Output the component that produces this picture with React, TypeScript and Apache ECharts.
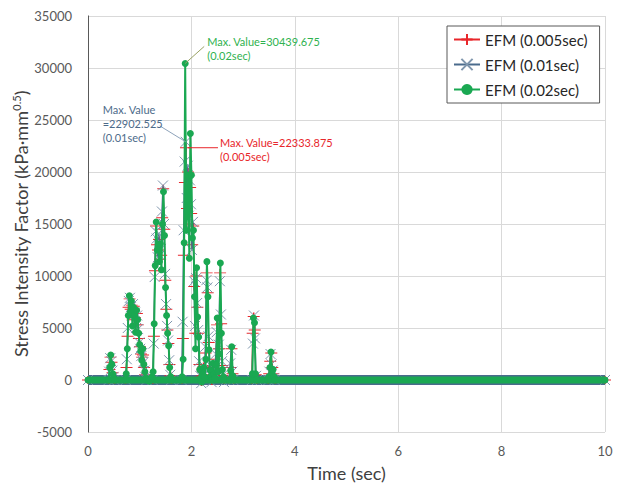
import React, { useEffect, useRef } from "react";
import * as echarts from "echarts";

const FONT = 'Lato, "Open Sans", "DejaVu Sans", sans-serif';

const seriesNames = ["EFM (0.005sec)", "EFM (0.01sec)", "EFM (0.02sec)"];
const seriesColors = ["#e8262b", "#4a6b8c", "#1aa852"];

const xTicks = { min: 0, max: 10, interval: 2 };
const yTicks = { min: -5000, max: 35000, interval: 5000 };

// EFM (0.005sec) : [time, value]
const red005: number[][] = [
  [0, 0], [0.405, 0], [0.415, 1000], [0.435, 2200], [0.455, 1700], [0.475, 700], [0.495, 200], [0.515, 0],
  [0.725, 0], [0.745, 1200], [0.765, 4200], [0.785, 7000], [0.805, 7800], [0.825, 6800], [0.845, 7200],
  [0.865, 5800], [0.885, 7100], [0.905, 6000], [0.925, 5300], [0.945, 6400], [0.965, 5300], [0.985, 4000],
  [1.005, 3200], [1.025, 2500], [1.045, 2200], [1.065, 2400], [1.085, 1200], [1.105, 500], [1.125, 100],
  [1.255, 0], [1.275, 4200], [1.295, 10500], [1.315, 14800], [1.335, 13000], [1.355, 12500], [1.375, 13500],
  [1.395, 11600], [1.415, 12000], [1.435, 15600], [1.455, 18400], [1.475, 14500], [1.495, 9600], [1.515, 6800],
  [1.535, 4800], [1.555, 3500], [1.575, 1500], [1.595, 400], [1.615, 0], [1.815, 0], [1.835, 4000],
  [1.855, 12000], [1.875, 19000], [1.895, 22333.875], [1.915, 16500], [1.935, 20000], [1.955, 15000],
  [1.975, 18500], [1.995, 16000], [2.015, 13000], [2.035, 14800], [2.055, 9000], [2.075, 4500], [2.095, 10000],
  [2.115, 7000], [2.135, 4500], [2.155, 1500], [2.175, 300], [2.195, -200], [2.215, 400], [2.235, 1300],
  [2.255, 500], [2.275, 2600], [2.295, 10300], [2.315, 8400], [2.335, 3600], [2.355, 1200], [2.375, 400],
  [2.395, -100], [2.415, 1400], [2.435, 700], [2.455, 200], [2.475, 2000], [2.495, 5300], [2.515, 1100],
  [2.535, 3000], [2.555, 10300], [2.575, 5400], [2.595, 1400], [2.615, 400], [2.635, 0], [2.735, 0],
  [2.755, 1200], [2.775, 3000], [2.795, 600], [2.815, 0], [3.165, 0], [3.185, 4500], [3.205, 6100],
  [3.225, 4800], [3.245, 500], [3.265, 0], [3.485, 0], [3.505, 600], [3.525, 1800], [3.545, 2600],
  [3.565, 1200], [3.585, 600], [3.605, 100], [3.625, 0], [10, 0],
];

// EFM (0.01sec)
const blue001: number[][] = [
  [0, 0], [0.40, 0], [0.41, 800], [0.43, 2100], [0.45, 1800], [0.47, 900], [0.49, 300], [0.51, 0],
  [0.73, 0], [0.75, 2000], [0.77, 5000], [0.79, 7600], [0.81, 7900], [0.83, 7000], [0.85, 6200], [0.87, 7300],
  [0.89, 5600], [0.91, 6500], [0.93, 5000], [0.95, 6200], [0.97, 4900], [0.99, 3600], [1.01, 3000],
  [1.03, 2300], [1.05, 2600], [1.07, 1700], [1.09, 900], [1.11, 300], [1.13, 0], [1.25, 0], [1.27, 3500],
  [1.29, 9900], [1.31, 14300], [1.33, 13600], [1.35, 11800], [1.37, 14100], [1.39, 12000], [1.41, 12600],
  [1.43, 16200], [1.45, 18700], [1.47, 15000], [1.49, 10200], [1.51, 7300], [1.53, 5200], [1.55, 3800],
  [1.57, 1900], [1.59, 500], [1.61, 0], [1.81, 0], [1.83, 5600], [1.85, 14400], [1.87, 21000],
  [1.89, 22902.525], [1.91, 17500], [1.93, 20600], [1.95, 15800], [1.97, 19200], [1.99, 16900], [2.01, 12500],
  [2.03, 15200], [2.05, 9500], [2.07, 5200], [2.09, 9800], [2.11, 7400], [2.13, 4800], [2.15, 1800],
  [2.17, 400], [2.19, -300], [2.21, 300], [2.23, 1400], [2.25, 600], [2.27, 3200], [2.29, 9600], [2.31, 8900],
  [2.33, 4200], [2.35, 1500], [2.37, 500], [2.39, -200], [2.41, 1200], [2.43, 800], [2.45, 300], [2.47, 2500],
  [2.49, 4600], [2.51, 1400], [2.53, 3400], [2.55, 9500], [2.57, 6300], [2.59, 1800], [2.61, 500],
  [2.63, -200], [2.73, 0], [2.75, 1600], [2.77, 2900], [2.79, 800], [2.81, 0], [3.17, 0], [3.19, 3500],
  [3.21, 6200], [3.23, 4000], [3.25, 400], [3.27, 0], [3.49, 0], [3.51, 800], [3.53, 2500], [3.55, 1500],
  [3.57, 900], [3.59, 200], [3.61, 0], [10, 0],
];

// EFM (0.02sec)
const green002: number[][] = [
  [0, 0], [0.40, 0], [0.42, 1200], [0.44, 2400], [0.46, 1500], [0.48, 600], [0.50, 200], [0.52, 0],
  [0.72, 0], [0.74, 600], [0.76, 3000], [0.78, 6200], [0.80, 8100], [0.82, 6500], [0.84, 7600], [0.86, 5200],
  [0.88, 7000], [0.90, 6300], [0.92, 4600], [0.94, 6700], [0.96, 5800], [0.98, 4500], [1.00, 3400],
  [1.02, 2800], [1.04, 1900], [1.06, 3000], [1.08, 1500], [1.10, 800], [1.12, 200], [1.14, 0], [1.18, -100],
  [1.20, 0], [1.24, 300], [1.26, 800], [1.28, 5400], [1.30, 11000], [1.32, 15200], [1.34, 12500],
  [1.36, 12800], [1.38, 11400], [1.40, 13100], [1.42, 10600], [1.44, 15000], [1.46, 18100], [1.48, 13900],
  [1.50, 8900], [1.52, 6200], [1.54, 4500], [1.56, 3300], [1.58, 1200], [1.60, 300], [1.62, 0], [1.80, 0],
  [1.82, 300], [1.84, 2000], [1.86, 13200], [1.88, 30439.675], [1.90, 14400], [1.92, 16200], [1.94, 19700],
  [1.96, 11700], [1.98, 23700], [2.00, 19700], [2.02, 13650], [2.04, 14400], [2.06, 8000], [2.08, 3000],
  [2.10, 10800], [2.12, 6060], [2.14, 4130], [2.16, 1000], [2.18, 200], [2.20, -200], [2.22, 500],
  [2.24, 1200], [2.26, 300], [2.28, 2000], [2.30, 11380], [2.32, 8000], [2.34, 2900], [2.36, 960],
  [2.38, 400], [2.40, 0], [2.42, 1600], [2.44, 600], [2.46, 200], [2.48, 1440], [2.50, 5960], [2.52, 800],
  [2.54, 2500], [2.56, 11250], [2.58, 4500], [2.60, 1000], [2.62, 300], [2.64, 0], [2.74, 0], [2.76, 900],
  [2.78, 3200], [2.80, 400], [2.82, 0], [3.16, 0], [3.18, 600], [3.20, 5960], [3.22, 5500], [3.24, 600],
  [3.26, 0], [3.48, 0], [3.50, 300], [3.52, 1200], [3.54, 2700], [3.56, 700], [3.58, 1000], [3.60, 300],
  [3.62, 0], [10, 0],
];

// zero level from 0 to 10 sec (drawn as the solid band of overlapping markers)
const baseline: number[][] = [[0, 0], [10, 0]];

// maxima [time, value] and annotation texts
const redMax = [1.895, 22333.875];
const blueMax = [1.89, 22902.525];
const greenMax = [1.88, 30439.675];
const redNote = "Max. Value=22333.875\n(0.005sec)";
const blueNote = "Max. Value\n=22902.525\n(0.01sec)";
const greenNote = "Max. Value=30439.675\n(0.02sec)";

const PLUS = "path://M0,5L10,5M5,0L5,10";
const CROSS = "path://M0,0L10,10M10,0L0,10";

export default function App() {
  const ref = useRef<HTMLDivElement>(null);
  useEffect(() => {
    if (!ref.current) return;
    const chart = echarts.init(ref.current, undefined, { renderer: "svg" });
    const option: any = {
      animation: false,
      backgroundColor: "#ffffff",
      textStyle: { fontFamily: FONT },
      grid: { left: 88, right: 18, top: 16, bottom: 56, containLabel: false, outerBoundsMode: "none" },
      legend: {
        data: seriesNames,
        orient: "vertical",
        left: 447,
        top: 26,
        width: 150,
        padding: [6, 12, 6, 6],
        itemGap: 10,
        itemWidth: 26,
        itemHeight: 14,
        backgroundColor: "#ffffff",
        borderColor: "#595959",
        borderWidth: 1,
        textStyle: { fontFamily: FONT, fontSize: 15, color: "#262626" },
      },
      xAxis: {
        type: "value",
        min: xTicks.min,
        max: xTicks.max,
        interval: xTicks.interval,
        name: "Time (sec)",
        nameLocation: "middle",
        nameGap: 32,
        nameMoveOverlap: false,
        nameTextStyle: { fontFamily: FONT, fontSize: 18, color: "#404040" },
        axisLine: { show: false },
        axisTick: { show: false },
        axisLabel: { fontFamily: FONT, fontSize: 13, color: "#595959", margin: 12 },
        splitLine: { show: true, lineStyle: { color: "#d9d9d9", width: 1 } },
      },
      yAxis: [
        {
          type: "value",
          min: yTicks.min,
          max: yTicks.max,
          interval: yTicks.interval,
          name: "Stress Intensity Factor (kPa·mm{sup|0.5})",
          nameLocation: "middle",
          nameGap: 58,
          nameMoveOverlap: false,
          nameTextStyle: {
            fontFamily: FONT,
            fontSize: 18,
            color: "#404040",
            rich: { sup: { fontFamily: FONT, fontSize: 11, color: "#404040", verticalAlign: "top", padding: [0, 0, 8, 0] } },
          },
          axisLine: { show: true, onZero: false, lineStyle: { color: "#bfbfbf" } },
          axisTick: { show: false },
          axisLabel: { fontFamily: FONT, fontSize: 13, color: "#595959", margin: 16, formatter: (v: number) => String(v) },
          splitLine: { show: true, lineStyle: { color: "#d9d9d9", width: 1 } },
        },
        {
          type: "value",
          position: "right",
          min: yTicks.min,
          max: yTicks.max,
          interval: yTicks.interval,
          axisLine: { show: true, lineStyle: { color: "#595959" } },
          axisTick: { show: false },
          axisLabel: { show: false },
          splitLine: { show: false },
        },
      ],
      series: [
        {
          name: "band-blue",
          type: "line",
          data: baseline,
          symbol: "none",
          lineStyle: { color: seriesColors[1], width: 10 },
          z: 1,
          silent: true,
        },
        {
          name: seriesNames[0],
          type: "line",
          data: red005,
          symbol: PLUS,
          symbolSize: [12, 8],
          showAllSymbol: true,
          itemStyle: { color: seriesColors[0], borderColor: seriesColors[0], borderWidth: 1.2 },
          lineStyle: { color: seriesColors[0], width: 1 },
          z: 2,
        },
        {
          name: seriesNames[1],
          type: "line",
          data: blue001,
          symbol: CROSS,
          symbolSize: 10,
          showAllSymbol: true,
          itemStyle: { color: seriesColors[1], borderColor: "#7f96ad", borderWidth: 1 },
          lineStyle: { color: seriesColors[1], width: 1.3 },
          z: 3,
        },
        {
          name: "band-green",
          type: "line",
          data: baseline,
          symbol: "none",
          lineStyle: { color: seriesColors[2], width: 7 },
          z: 4,
          silent: true,
        },
        {
          name: seriesNames[2],
          type: "line",
          data: green002,
          symbol: "circle",
          symbolSize: 7,
          showAllSymbol: true,
          itemStyle: { color: seriesColors[2] },
          lineStyle: { color: seriesColors[2], width: 2 },
          z: 5,
        },
      ],
    };
    chart.setOption(option);

    const px = (p: number[]) => chart.convertToPixel({ xAxisIndex: 0, yAxisIndex: 0 }, p) as number[];
    const g = px(greenMax);
    const b = px(blueMax);
    const r = px(redMax);
    const noteStyle = (color: string) => ({ fontFamily: FONT, fontSize: 11, lineHeight: 14, fill: color });
    chart.setOption({
      graphic: [
        { type: "line", shape: { x1: g[0], y1: g[1], x2: g[0] + 19, y2: g[1] - 17 }, style: { stroke: "#9aa264", lineWidth: 1 }, z: 100 },
        { type: "text", x: g[0] + 22, y: g[1] - 29, style: { text: greenNote, ...noteStyle("#2fb24f") }, z: 100 },
        { type: "line", shape: { x1: b[0], y1: b[1], x2: b[0] - 26, y2: b[1] - 16 }, style: { stroke: "#8ea3ba", lineWidth: 1 }, z: 100 },
        { type: "text", x: b[0] - 83, y: b[1] - 39, style: { text: blueNote, ...noteStyle("#4d6b8a") }, z: 100 },
        { type: "line", shape: { x1: r[0] + 2, y1: r[1], x2: r[0] + 32, y2: r[1] }, style: { stroke: "#e8262b", lineWidth: 1 }, z: 100 },
        { type: "text", x: r[0] + 34, y: r[1] - 12, style: { text: redNote, ...noteStyle("#e8262b") }, z: 100 },
      ],
    });
    return () => chart.dispose();
  }, []);
  return <div ref={ref} style={{ width: 623, height: 488, position: "absolute", left: 0, top: 0 }} />;
}
